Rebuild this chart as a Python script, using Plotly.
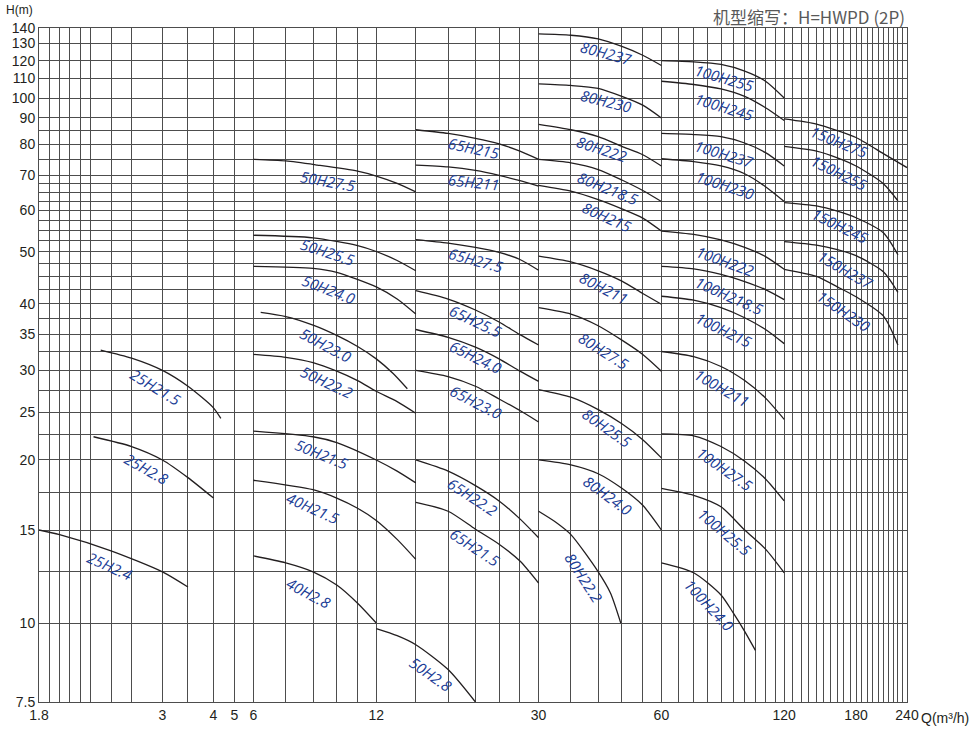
import numpy as np
import plotly.graph_objects as go

# ---------------- data (Q in m3/h, H in m) ----------------
MODELS = [
    "25H2.4", "25H2.8", "25H21.5",
    "40H2.8", "40H21.5",
    "50H2.8", "50H21.5", "50H22.2", "50H23.0", "50H24.0", "50H25.5", "50H27.5",
    "65H215", "65H211", "65H27.5", "65H25.5", "65H24.0", "65H23.0", "65H22.2", "65H21.5",
    "80H237", "80H230", "80H222", "80H218.5", "80H215", "80H211", "80H27.5", "80H25.5", "80H24.0", "80H22.2",
    "100H255", "100H245", "100H237", "100H230", "100H222", "100H218.5", "100H215", "100H211",
    "100H27.5", "100H25.5", "100H24.0",
    "150H275", "150H255", "150H245", "150H237", "150H230",
]

Q_65 = [15, 18, 21, 24, 27, 30]
Q_80 = [30, 36, 42, 48, 54, 60]
Q_100 = [60, 72, 84, 96, 108, 120]
Q_150 = [120, 144, 162, 180, 210, 228]

Q_DATA = [
    [1.8, 2.0, 2.5, 3.0, 3.5],
    [2.33, 2.7, 3.0, 3.5, 4.0],
    [2.4, 2.7, 3.0, 3.5, 4.0, 4.35],
    [6, 7.2, 8.4, 9.6, 10.8, 12],
    [6, 8.4, 9.6, 10.8, 12, 13.5, 15],
    [12, 13.5, 15, 18, 21],
    [6, 8.4, 9.6, 12, 13.5, 15],
    [6, 7.2, 8.4, 9.6, 10.8, 12, 13.5, 15],
    [6.25, 7.2, 8.4, 9.6, 10.8, 12, 13.2, 14.3],
    [6, 8.4, 9.6, 12, 13.5, 15],
    [6, 8.4, 10.8, 12, 13.5, 15],
    [6, 7.2, 8.6, 10.8, 12, 13.5, 15],
    Q_65, Q_65, Q_65, Q_65, Q_65, Q_65, Q_65, Q_65,
    Q_80, Q_80, Q_80, Q_80, Q_80, Q_80, Q_80, Q_80, Q_80,
    [30, 33, 36, 42, 45, 47.7],
    Q_100, Q_100, Q_100, Q_100, Q_100, Q_100, Q_100, Q_100, Q_100, Q_100,
    [60, 72, 84, 90, 96, 102],
    [120, 144, 162, 180, 210, 240],
    Q_150, Q_150, Q_150, Q_150,
]

H_DATA = [
    [15.0, 14.7, 13.7, 12.5, 11.7],
    [22.3, 21.3, 20.0, 18.6, 17.1],
    [32.7, 31.6, 30.0, 28.0, 25.5, 24.3],
    [13.4, 13.0, 12.5, 11.8, 10.9, 10.0],
    [18.4, 17.7, 17.1, 16.4, 15.6, 14.4, 13.2],
    [9.8, 9.55, 9.24, 8.44, 7.5],
    [22.9, 22.3, 21.7, 20.0, 19.1, 18.2],
    [32.1, 31.7, 31.0, 29.9, 28.7, 27.4, 26.2, 24.9],
    [38.5, 37.8, 36.4, 34.8, 33.2, 31.5, 29.6, 27.7],
    [47.0, 46.6, 45.8, 43.0, 40.8, 38.2],
    [53.8, 53.2, 51.4, 50.1, 48.2, 46.1],
    [75.0, 74.5, 73.2, 71.3, 69.8, 67.6, 65.1],
    [85.4, 84.0, 82.2, 80.2, 77.7, 75.0],
    [73.2, 72.6, 71.5, 70.0, 68.4, 66.8],
    [52.8, 52.0, 51.0, 49.9, 48.4, 46.2],
    [42.3, 40.8, 38.9, 36.9, 34.9, 33.4],
    [35.7, 34.5, 33.1, 31.5, 29.9, 28.6],
    [30.0, 29.2, 28.0, 26.5, 25.2, 23.9],
    [20.0, 19.1, 18.0, 16.9, 15.7, 14.5],
    [16.8, 16.2, 15.05, 14.1, 13.1, 11.9],
    [136, 135.1, 132.7, 128, 123, 117.2],
    [107.1, 106.3, 104.8, 100.8, 96.3, 90.0],
    [87.5, 85.4, 82.8, 79.3, 76.5, 72.9],
    [75.0, 73.9, 71.8, 68.6, 65.5, 62.4],
    [67.0, 65.3, 62.9, 60.4, 58.0, 54.8],
    [49.1, 47.9, 46.1, 44.1, 41.8, 39.9],
    [39.3, 38.2, 36.3, 34.1, 32.1, 29.9],
    [27.6, 26.7, 25.3, 23.7, 22.0, 20.2],
    [20.0, 19.6, 18.9, 17.8, 16.6, 15.0],
    [16.2, 15.5, 14.7, 12.5, 11.4, 10.0],
    [120, 119.3, 117.8, 114, 108.5, 100],
    [108.5, 106.8, 104.5, 100.8, 95.0, 89.0],
    [84.0, 83.6, 82.8, 80.5, 77.2, 72.9],
    [75.2, 74.3, 72.9, 70.5, 66.6, 62.4],
    [54.8, 54.0, 52.7, 51.0, 49.0, 46.4],
    [47.0, 46.5, 45.4, 44.0, 42.5, 40.7],
    [41.3, 40.6, 39.3, 37.6, 35.7, 33.6],
    [32.5, 31.8, 30.5, 28.7, 26.6, 24.2],
    [22.6, 22.4, 21.3, 19.9, 18.5, 16.9],
    [17.8, 17.3, 16.5, 15.0, 13.8, 12.45],
    [13.0, 12.45, 11.3, 10.45, 9.7, 9.05],
    [89.6, 87.6, 85.1, 82.5, 76.9, 72.4],
    [79.3, 77.7, 75.5, 72.9, 67.5, 62.6],
    [62.1, 61.2, 59.8, 58.1, 54.4, 49.4],
    [52.3, 51.5, 50.5, 49.2, 45.9, 42.0],
    [46.4, 45.0, 43.0, 41.2, 37.9, 33.4],
]

X_TICK_LABELS = [1.8, 3, 4, 5, 6, 12, 30, 60, 120, 180, 240]
X_GRID = ([1.8, 1.9, 2.0, 2.1, 2.2, 2.3, 2.5, 2.7, 3, 3.5, 4, 5,
           6, 7.2, 8.4, 9.6, 10.8, 12, 15, 18, 21, 24, 27, 30,
           36, 42, 48, 54] + list(range(60, 241, 6)))
Y_TICK_LABELS = [7.5, 10, 15, 20, 25, 30, 35, 40, 50, 60, 70, 80, 90, 100, 110, 120, 130, 140]
Y_GRID = [7.5, 10, 12.5, 15, 17.5, 20, 22.5, 25, 27.5, 30, 32.5, 35, 37.5, 40, 42.5, 45,
          47.5, 50, 52.5, 55, 57.5, 60, 62.5, 65, 67.5, 70, 75, 80, 85, 90, 100, 110,
          120, 130, 140]

# ---------------- axis scale definition (hand-drawn broken log scales) ----------------
X_BREAK_Q = [1.8, 3, 4, 5, 6]
X_BREAK_U = [0.2524, 0.5550, 0.6801, 0.7316, float(np.log10(6))]
Y_BREAK_U = [0, 0.1172, 0.2552, 0.3591, 0.4297, 0.4920, 0.5460, 0.5910, 0.6677,
             0.7294, 0.7813, 0.8273, 0.8665, 0.8961, 0.9252, 0.9515, 0.9777, 1.0]


def xu(q):
    q = np.asarray(q, dtype=float)
    return np.where(q < 6, np.interp(q, X_BREAK_Q, X_BREAK_U), np.log10(np.maximum(q, 1e-9)))


def yu(h):
    h = np.asarray(h, dtype=float)
    return np.interp(np.log10(h), np.log10(Y_TICK_LABELS), Y_BREAK_U)


def fmt(v):
    return ("%g" % v)


# label placement (Q, H of label centre, rotation)
LABELS = [
    ("25H2.4", 2.49, 12.8, 24), ("25H2.8", 2.85, 19.3, 29), ("25H21.5", 2.935, 27.95, 31),
    ("40H2.8", 8.2, 11.4, 28), ("40H21.5", 8.39, 16.4, 24),
    ("50H2.8", 16.3, 8.3, 35),
    ("50H21.5", 8.81, 20.6, 22), ("50H22.2", 9.08, 28.5, 25), ("50H23.0", 9.03, 33.4, 28),
    ("50H24.0", 9.14, 42.6, 21), ("50H25.5", 9.14, 50.1, 18), ("50H27.5", 9.12, 68.2, 10),
    ("65H215", 20.8, 78.8, 12), ("65H211", 20.8, 68.0, 6), ("65H27.5", 21.1, 48.2, 15),
    ("65H25.5", 21.05, 37.1, 25), ("65H24.0", 21.05, 31.7, 26), ("65H23.0", 21.05, 26.1, 27),
    ("65H22.2", 20.7, 17.2, 33), ("65H21.5", 20.9, 13.9, 33),
    ("80H237", 44.0, 124.2, 15), ("80H230", 44.0, 98.2, 14), ("80H222", 42.95, 78.6, 18),
    ("80H218.5", 44.3, 66.2, 22), ("80H215", 44.2, 58.3, 24), ("80H211", 43.4, 42.8, 27),
    ("80H27.5", 43.4, 32.6, 32), ("80H25.5", 44.2, 23.2, 35), ("80H24.0", 44.2, 17.3, 36),
    ("80H22.2", 38.6, 12.2, 57),
    ("100H255", 85.9, 110, 16), ("100H245", 85.9, 95.3, 17), ("100H237", 85.9, 76.9, 17),
    ("100H230", 85.9, 67.0, 18), ("100H222", 85.9, 48.0, 20), ("100H218.5", 88.3, 41.3, 24),
    ("100H215", 85.6, 35.7, 26), ("100H211", 84.6, 27.8, 30), ("100H27.5", 85.9, 19.3, 35),
    ("100H25.5", 85.9, 14.9, 40), ("100H24.0", 78.5, 10.8, 47),
    ("150H275", 164.4, 80.8, 22), ("150H255", 164.4, 70.7, 26), ("150H245", 165, 56.0, 26),
    ("150H237", 170, 46.2, 30), ("150H230", 168, 38.8, 34),
]

GRID_COLOR = "#4d4d4d"
CURVE_COLOR = "#231f20"
LABEL_COLOR = "#1b3d96"

fig = go.Figure()
for name, q, h in zip(MODELS, Q_DATA, H_DATA):
    fig.add_trace(go.Scatter(
        x=xu(q), y=yu(h), mode="lines", name=name,
        line=dict(color=CURVE_COLOR, width=1.3, shape="spline", smoothing=0.7),
        hoverinfo="skip", showlegend=False))

for name, q, h, ang in LABELS:
    fig.add_annotation(x=float(xu(q)), y=float(yu(h)), text=name, textangle=ang,
                       showarrow=False,
                       font=dict(family="Open Sans", size=15, color=LABEL_COLOR, style="italic"))

x_text = [fmt(v) if v in X_TICK_LABELS else "" for v in X_GRID]
y_text = [fmt(v) if v in Y_TICK_LABELS else "" for v in Y_GRID]

fig.update_xaxes(
    range=[X_BREAK_U[0], float(np.log10(240))], tickmode="array",
    tickvals=xu(X_GRID).tolist(), ticktext=x_text, automargin=False,
    showgrid=True, gridcolor=GRID_COLOR, gridwidth=1, zeroline=False,
    showline=True, mirror=True, linecolor=GRID_COLOR, linewidth=1,
    ticks="", tickfont=dict(family="Liberation Sans", size=14, color="#231f20"))
fig.update_yaxes(
    range=[0, 1], tickmode="array",
    tickvals=yu(Y_GRID).tolist(), ticktext=y_text, automargin=False,
    showgrid=True, gridcolor=GRID_COLOR, gridwidth=1, zeroline=False,
    showline=True, mirror=True, linecolor=GRID_COLOR, linewidth=1,
    ticks="", tickfont=dict(family="Liberation Sans", size=14, color="#231f20"))

fig.add_annotation(xref="paper", yref="paper", x=-0.0219, y=1.0267, text="H(m)",
                   showarrow=False, xanchor="center", yanchor="middle",
                   font=dict(family="Liberation Sans", size=12, color="#231f20"))
fig.add_annotation(xref="paper", yref="paper", x=1.0438, y=-0.0237, text="Q(m³/h)",
                   showarrow=False, xanchor="center", yanchor="middle",
                   font=dict(family="Liberation Sans", size=14, color="#231f20"))
fig.add_annotation(xref="paper", yref="paper", x=1.0, y=1.0178, text="机型缩写：H=HWPD (2P)",
                   showarrow=False, xanchor="right", yanchor="middle",
                   font=dict(family="Noto Sans CJK SC", size=17, color="#595959"))

fig.update_layout(
    width=971, height=734, autosize=False,
    margin=dict(l=39, r=64, t=28, b=32, autoexpand=False),
    plot_bgcolor="white", paper_bgcolor="white",
    showlegend=False, hovermode=False)

fig.write_html("out.html", config={"displayModeBar": False, "staticPlot": True},
               post_script="document.body.style.margin='0px';document.body.style.overflow='hidden';")
